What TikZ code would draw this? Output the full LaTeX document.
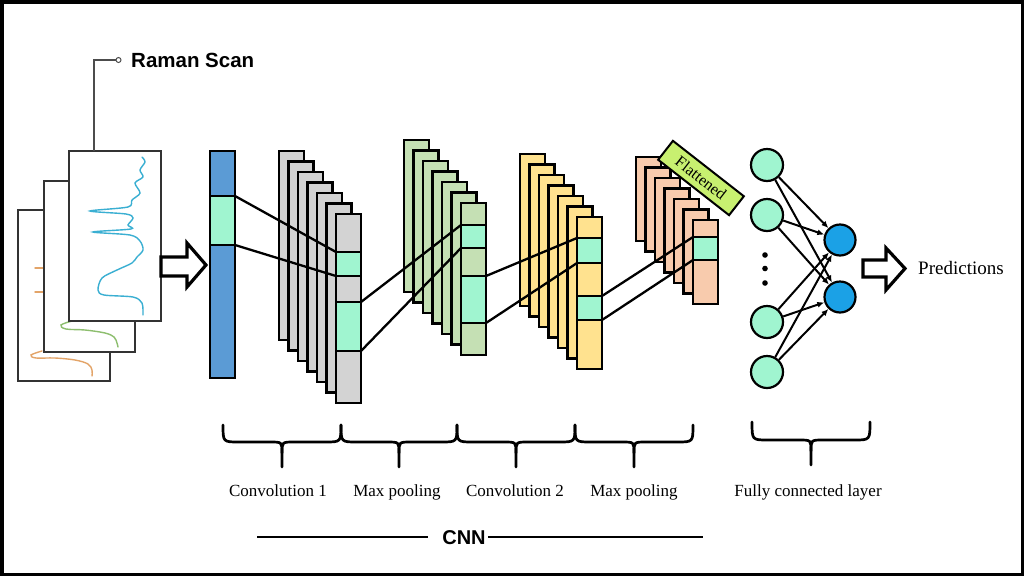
\documentclass[tikz,border=0pt]{standalone}
\usepackage{fontspec}
\setmainfont{Liberation Serif}
\newfontfamily\labsans{Liberation Sans}
\usetikzlibrary{arrows.meta}
\definecolor{bluecol}{HTML}{5B9BD5}
\definecolor{mint}{HTML}{A0F5D0}
\definecolor{grayl}{HTML}{D3D3D3}
\definecolor{greenl}{HTML}{C5E0B4}
\definecolor{yellowl}{HTML}{FFE28F}
\definecolor{orangel}{HTML}{F8CBAD}
\definecolor{limeg}{HTML}{C8F070}
\definecolor{fcblue}{HTML}{1BA1E6}
\definecolor{spcyan}{HTML}{3AAFD2}
\definecolor{spgreen}{HTML}{8DBE6E}
\definecolor{sporange}{HTML}{E3A468}
\begin{document}
\begin{tikzpicture}[x=1pt,y=-1pt,
 layer/.style={draw=black, line width=2.6pt, inner sep=0pt, outer sep=0pt, minimum width=25pt},
 seg/.style={layer, fill=mint},
 link/.style={draw=black, line width=2.3pt},
 panel/.style={draw=black!80, line width=1.4pt, fill=white, inner sep=0pt, outer sep=0pt},
 neuronA/.style={circle, draw=black, line width=2.2pt, fill=mint, minimum size=32pt, inner sep=0pt},
 neuronB/.style={circle, draw=black, line width=2.2pt, fill=fcblue, minimum size=31pt, inner sep=0pt},
 caption/.style={font=\fontsize{17}{20}\selectfont, inner sep=0pt},
 bracepath/.style={line width=2.7pt, line cap=round},
 hollow/.style={draw=black, line width=3.2pt, fill=white, line join=miter},
 spec/.style={line width=1.4pt, line cap=round}
]
\useasboundingbox (0,0) rectangle (1024,576);
\fill[white] (0,0) rectangle (1024,576);
\draw[line width=3.5pt] (1.75,1.75) rectangle (1022.25,574.25);

% Raman scan panels
\node[panel, minimum width=92pt, minimum height=171pt] (scanA) at (64,295.5) {};
\draw[spec, sporange] (35,268) -- (43,268);
\draw[spec, sporange] (35,292) -- (43,292);
\draw[spec, sporange] plot[smooth, tension=0.6] coordinates {(42,351) (31,355) (36,358) (55,358) (75,360) (88,364) (92,370) (92,376)};
\node[panel, minimum width=91pt, minimum height=171pt] (scanB) at (89.5,266.5) {};
\draw[spec, spgreen] plot[smooth, tension=0.6] coordinates {(72,321) (61,325) (66,329) (85,330) (105,333) (114,337) (117,343) (118,347)};
\node[panel, minimum width=92pt, minimum height=170pt] (scanC) at (115,236) {};
\draw[spec, spcyan] plot[smooth, tension=0.5] coordinates {(142,157) (145,162) (140,170) (143,177) (135,183) (140,193) (132,200) (128,207) (90,211) (126,214) (133,218) (128,225) (131,229) (93,232) (130,235) (140,241) (143,250) (137,257) (132,263) (117,270) (102,278) (98,290) (104,295) (133,297) (142,303) (143,315)};

% callout
\node[circle, draw=black!70, line width=1pt, fill=white, minimum size=5pt, inner sep=0pt] (rdot) at (118.5,60) {};
\draw[black!70, line width=1.1pt] ([xshift=-21pt]scanC.north) |- (rdot.west);
\node[anchor=base west, inner sep=0pt, font=\labsans\bfseries\fontsize{20.5}{24}\selectfont] (rtext) at (131,67) {Raman Scan};

% input arrow
\draw[hollow] (161,257) -- (187,257) -- (187,243) -- (206,265) -- (187,287) -- (187,276) -- (161,276) -- cycle;

% input column
\node[layer, fill=bluecol, minimum height=227pt] (inp) at (222.5,264.5) {};
\node[seg, minimum height=49pt] (inseg) at (222.5,220.5) {};

% convolution 1
\foreach \i in {0,...,6}
  \node[layer, fill=grayl, minimum height=189pt] (ca\i) at ({291.5+9.5*\i},{245.5+10.5*\i}) {};
\node[seg, minimum height=24pt] (c1a) at (348.5,264) {};
\node[seg, minimum height=49pt] (c1b) at (348.5,326.5) {};

% max pooling 1
\foreach \i in {0,...,6}
  \node[layer, fill=greenl, minimum height=152pt] (pa\i) at ({416.5+9.5*\i},{216+10.5*\i}) {};
\node[seg, minimum height=23pt] (p1a) at (473.5,236.5) {};
\node[seg, minimum height=47pt] (p1b) at (473.5,299.5) {};

% convolution 2
\foreach \i in {0,...,6}
  \node[layer, fill=yellowl, minimum height=152pt] (cb\i) at ({532.5+9.5*\i},{230+10.5*\i}) {};
\node[seg, minimum height=25pt] (c2a) at (589.5,250.5) {};
\node[seg, minimum height=24pt] (c2b) at (589.5,308) {};

% max pooling 2
\foreach \i in {0,...,6}
  \node[layer, fill=orangel, minimum height=84pt] (pb\i) at ({648.5+9.5*\i},{199+10.5*\i}) {};
\node[seg, minimum height=23pt] (p2a) at (705.5,248.5) {};

\node[draw=black, line width=2pt, fill=limeg, rotate=-38, minimum width=90pt, minimum height=24pt, inner sep=0pt, font=\fontsize{16}{18}\selectfont] (flat) at (701,178) {Flattened};

% links
\draw[link] (inseg.north east) -- (c1a.north west);
\draw[link] (inseg.south east) -- (c1a.south west);
\draw[link] (c1b.north east) -- (p1a.north west);
\draw[link] (c1b.south east) -- (p1a.south west);
\draw[link] (p1b.north east) -- (c2a.north west);
\draw[link] (p1b.south east) -- (c2a.south west);
\draw[link] (c2b.north east) -- (p2a.north west);
\draw[link] (c2b.south east) -- (p2a.south west);

% fully connected
\node[neuronA] (l1) at (767,165) {};
\node[neuronA] (l2) at (767,215) {};
\node[neuronA] (l3) at (767,322) {};
\node[neuronA] (l4) at (767,372) {};
\node[neuronB] (r1) at (840,240) {};
\node[neuronB] (r2) at (840,297) {};
\foreach \p in {255,268.5,283} \fill (765,\p) circle (2.8pt);
\foreach \a in {l1,l2,l3,l4}
  \foreach \b in {r1,r2}
    \draw[line width=2pt, -{Latex[length=7pt,width=6pt]}] (\a) -- (\b);

% predictions
\draw[hollow] (863,260) -- (886,260) -- (886,248) -- (905,268.5) -- (886,290) -- (886,277) -- (863,277) -- cycle;
\node[anchor=base west, inner sep=0pt, font=\fontsize{19}{22}\selectfont] (pred) at (918,274) {Predictions};

% braces
\foreach \a/\b in {223/341,341/457,457/575,575/693} {
  \draw[bracepath] (\a,425) .. controls (\a,442) .. ({\a+16},442) -- ({(\a+\b)/2-12},442) .. controls ({(\a+\b)/2},442) .. ({(\a+\b)/2},453) -- ({(\a+\b)/2},467);
  \draw[bracepath] (\b,425) .. controls (\b,442) .. ({\b-16},442) -- ({(\a+\b)/2+12},442) .. controls ({(\a+\b)/2},442) .. ({(\a+\b)/2},453);
}
\draw[bracepath] (752,422) .. controls (752,440) .. (768,440) -- (799,440) .. controls (811,440) .. (811,451) -- (811,465);
\draw[bracepath] (870,422) .. controls (870,440) .. (854,440) -- (823,440) .. controls (811,440) .. (811,451);

\node[caption, anchor=base] (lc1) at (278,496) {Convolution 1};
\node[caption, anchor=base] (lp1) at (397,496) {Max pooling};
\node[caption, anchor=base] (lc2) at (515,496) {Convolution 2};
\node[caption, anchor=base] (lp2) at (634,496) {Max pooling};
\node[caption, anchor=base] (lfc) at (808,496) {Fully connected layer};

% CNN
\node[anchor=base, inner sep=0pt, font=\labsans\bfseries\fontsize{20}{24}\selectfont] (cnn) at (464,544) {CNN};
\coordinate (cnnL) at (257,537);
\coordinate (cnnR) at (703,537);
\draw[line width=2.5pt] (cnnL) -- ([xshift=-14pt]cnn.west |- cnnL);
\draw[line width=2.5pt] ([xshift=2pt]cnn.east |- cnnR) -- (cnnR);
\end{tikzpicture}
\end{document}
